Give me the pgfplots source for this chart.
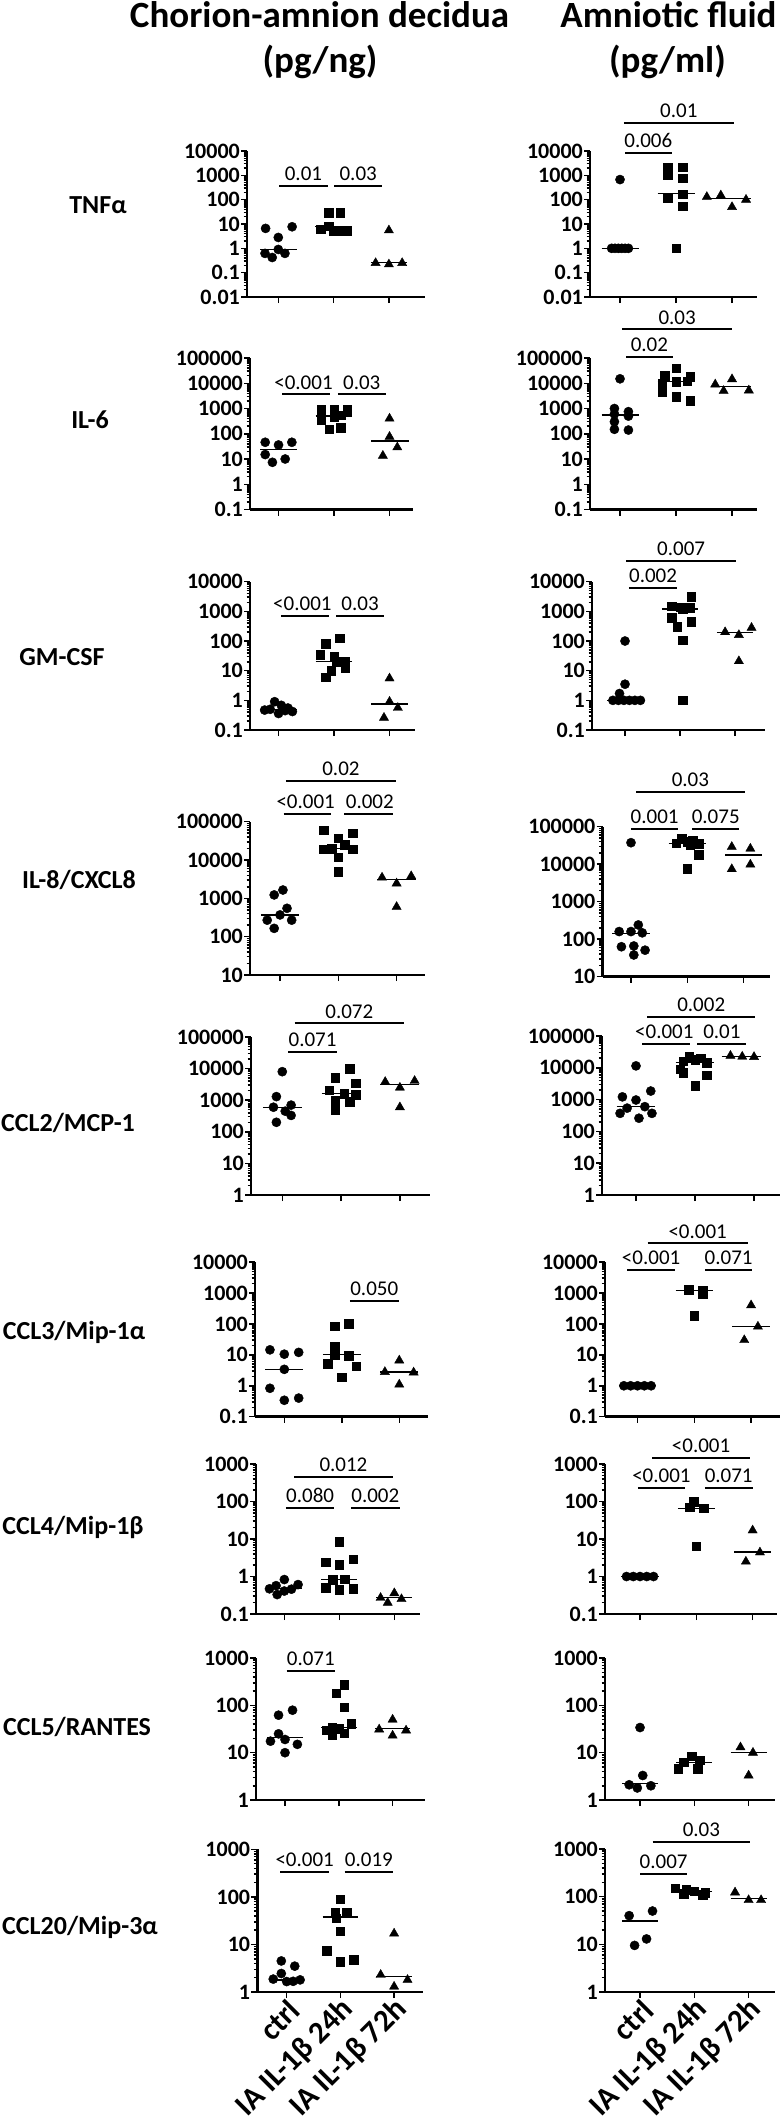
\documentclass[border=0pt]{standalone}
\usepackage{fontspec}
\setmainfont{Carlito}
\usepackage{pgfplots}
\pgfplotsset{compat=1.18}

\newcommand\ticfont{\fontsize{22}{22}\selectfont\bfseries}
\newcommand\sigfont{\fontsize{21}{22}\selectfont}
\newcommand\rowfont{\fontsize{26}{28}\selectfont\bfseries}
\newcommand\titfont{\fontsize{37}{40}\selectfont\bfseries}
\newcommand\xfont{\fontsize{31}{31}\selectfont\bfseries}

\pgfplotsset{
  cytopanel/.style={
    scale only axis, clip=false, anchor=south west,
    axis x line*=bottom, axis y line*=left,
    axis line style={line width=2.6pt},
    tick style={black, line width=1.5pt},
    major tick length=6pt, minor tick length=3.5pt,
    tick align=outside,
    xtick={0,1,2}, xticklabels={{},{},{}},
    yticklabel style={font=\ticfont, inner sep=1pt},
    minor ytick={0.02,0.03,0.04,0.05,0.06,0.07,0.08,0.09,0.2,0.3,0.4,0.5,0.6,0.7,0.8,0.9,2,3,4,5,6,7,8,9,20,30,40,50,60,70,80,90,200,300,400,500,600,700,800,900,2000,3000,4000,5000,6000,7000,8000,9000,20000,30000,40000,50000,60000,70000,80000,90000},
  },
  cyA/.style={ymin=0.01,ymax=10000,ytick={0.01,0.1,1,10,100,1000,10000},yticklabels={0.01,0.1,1,10,100,1000,10000}},
  cyB/.style={ymin=0.1,ymax=100000,ytick={0.1,1,10,100,1000,10000,100000},yticklabels={0.1,1,10,100,1000,10000,100000}},
  cyC/.style={ymin=0.1,ymax=10000,ytick={0.1,1,10,100,1000,10000},yticklabels={0.1,1,10,100,1000,10000}},
  cyD/.style={ymin=10,ymax=100000,ytick={10,100,1000,10000,100000},yticklabels={10,100,1000,10000,100000}},
  cyE/.style={ymin=1,ymax=100000,ytick={1,10,100,1000,10000,100000},yticklabels={1,10,100,1000,10000,100000}},
  cyF/.style={ymin=0.1,ymax=1000,ytick={0.1,1,10,100,1000},yticklabels={0.1,1,10,100,1000}},
  cyG/.style={ymin=1,ymax=1000,ytick={1,10,100,1000},yticklabels={1,10,100,1000}},
  ctrlpt/.style={only marks, mark=*, mark size=4.6pt, black},
  sqpt/.style={only marks, mark=square*, mark size=4.3pt, black},
  tript/.style={only marks, mark=triangle*, mark size=5.3pt, black},
  medl/.style={black, line width=1.3pt, mark=none},
  sigl/.style={black, line width=2pt, mark=none},
  bottomx/.style={xticklabels={ctrl,IA IL-1β 24h,IA IL-1β 72h},
    xticklabel style={font=\xfont, inner sep=0pt, xshift=8pt, yshift=-7pt, rotate=45, anchor=east}},
}

\newcommand\med[3]{\addplot[medl] coordinates {(#1,#3) (#2,#3)};}
\newcommand\sig[5]{\addplot[sigl] coordinates {(#1,#4) (#2,#4)};
  \node[anchor=south, inner sep=0pt, font=\sigfont, yshift=5pt] at (axis cs:#3,#4) {#5};}

\begin{document}
\begin{tikzpicture}
\useasboundingbox (0,0) rectangle (784pt,-2117pt);

% titles
\node[font=\titfont] at (319.5pt,-15pt) {Chorion-amnion decidua};
\node[font=\titfont] at (320pt,-62pt) {(pg/ng)};
\node[font=\titfont] at (668.5pt,-15pt) {Amniotic fluid};
\node[font=\titfont] at (667.5pt,-62pt) {(pg/ml)};

% row labels
\node[font=\rowfont] at (98pt,-205pt) {TNFα};
\node[font=\rowfont] at (90pt,-420pt) {IL-6};
\node[font=\rowfont] at (62pt,-657pt) {GM-CSF};
\node[font=\rowfont] at (79pt,-880pt) {IL-8/CXCL8};
\node[font=\rowfont] at (68pt,-1123pt) {CCL2/MCP-1};
\node[font=\rowfont] at (74pt,-1332pt) {CCL3/Mip-1α};
\node[font=\rowfont] at (73pt,-1527pt) {CCL4/Mip-1β};
\node[font=\rowfont] at (77pt,-1727pt) {CCL5/RANTES};
\node[font=\rowfont] at (80pt,-1927pt) {CCL20/Mip-3α};

% ===== Row 1 TNF =====
\begin{axis}[ymode=log, cytopanel, cyA, at={(247pt,-297pt)}, width=178pt, height=146pt, xmin=-0.566, xmax=2.653]
\addplot[ctrlpt] coordinates {(-0.23,6.6) (0.25,7.7) (0,2.8) (-0.24,0.62) (-0.11,0.42) (0,0.9) (0.12,0.62)};
\addplot[sqpt] coordinates {(0.91,29) (1.12,29) (0.77,6.2) (0.91,8) (1,5) (1.12,5) (1.24,5)};
\addplot[tript] coordinates {(2,5.5) (1.76,0.25) (2,0.22) (2.24,0.25)};
\med{-0.33}{0.33}{0.9}\med{0.67}{1.33}{8}\med{1.67}{2.33}{0.27}
\sig{0.02}{0.89}{0.455}{380}{0.01}
\sig{1.01}{1.88}{1.445}{380}{0.03}
\end{axis}
\begin{axis}[ymode=log, cytopanel, cyA, at={(590pt,-297pt)}, width=167pt, height=146pt, xmin=-0.536, xmax=2.446]
\addplot[ctrlpt] coordinates {(0,670) (-0.15,1) (-0.09,1) (-0.03,1) (0.03,1) (0.09,1) (0.15,1)};
\addplot[sqpt] coordinates {(0.85,2150) (1.12,2150) (0.85,1000) (1.12,750) (1.12,170) (0.85,120) (1.12,54) (1,1)};
\addplot[tript] coordinates {(1.55,130) (1.8,150) (2,50) (2.25,100)};
\med{-0.33}{0.33}{1}\med{0.67}{1.33}{175}\med{1.5}{2.33}{115}
\sig{0.09}{0.92}{0.505}{8500}{0.006}
\sig{0.07}{2.03}{1.05}{148000}{0.01}
\end{axis}

% ===== Row 2 IL-6 =====
\begin{axis}[ymode=log, cytopanel, cyB, at={(250pt,-509.5pt)}, width=163pt, height=151.5pt, xmin=-0.514, xmax=2.423]
\addplot[ctrlpt] coordinates {(-0.24,46) (0,36) (0.24,46) (-0.24,15) (-0.11,7.4) (0.12,10)};
\addplot[sqpt] coordinates {(0.77,900) (1,900) (1.24,900) (0.77,350) (1,450) (0.91,150) (1.12,170) (1.12,550)};
\addplot[tript] coordinates {(2,400) (2,76) (2.14,29) (1.88,13.5)};
\med{-0.33}{0.33}{24}\med{0.67}{1.33}{500}\med{1.67}{2.35}{52}
\sig{0.07}{0.93}{0.45}{3600}{<0.001}
\sig{1.07}{1.93}{1.5}{3600}{0.03}
\end{axis}
\begin{axis}[ymode=log, cytopanel, cyB, at={(590pt,-509.5pt)}, width=167pt, height=151.5pt, xmin=-0.536, xmax=2.446]
\addplot[ctrlpt] coordinates {(0,15000) (-0.1,1000) (0.15,750) (-0.1,600) (0.15,500) (-0.1,300) (-0.1,150) (0.15,140)};
\addplot[sqpt] coordinates {(1,40000) (0.8,20000) (1.25,18000) (0.75,10000) (1.2,12000) (1,11700) (0.75,4400) (1,3000) (1.25,2000)};
\addplot[tript] coordinates {(2,14500) (1.7,9000) (1.85,5000) (2.3,5200)};
\med{-0.33}{0.33}{550}\med{0.67}{1.33}{11700}\med{1.67}{2.33}{7400}
\sig{0.11}{0.94}{0.525}{107000}{0.02}
\sig{0.04}{2.0}{1.02}{1350000}{0.03}
\end{axis}

% ===== Row 3 GM-CSF =====
\begin{axis}[ymode=log, cytopanel, cyC, at={(250pt,-730pt)}, width=165pt, height=148.3pt, xmin=-0.514, xmax=2.459]
\addplot[ctrlpt] coordinates {(-0.25,0.47) (-0.15,0.5) (-0.07,0.9) (0.05,0.68) (0.12,0.45) (0,0.36) (0.25,0.42) (0.17,0.55)};
\addplot[sqpt] coordinates {(1.1,125) (0.85,80) (0.75,35) (1,30) (1.05,20) (1.2,20) (1.2,12) (0.95,10) (0.85,6)};
\addplot[tript] coordinates {(2,5.5) (2,0.9) (2.15,0.56) (1.9,0.26)};
\med{-0.33}{0.33}{0.48}\med{0.67}{1.33}{20}\med{1.67}{2.33}{0.75}
\sig{0.05}{0.91}{0.43}{690}{<0.001}
\sig{1.04}{1.9}{1.47}{690}{0.03}
\end{axis}
\begin{axis}[ymode=log, cytopanel, cyC, at={(592pt,-730pt)}, width=173pt, height=148.3pt, xmin=-0.6, xmax=2.545]
\addplot[ctrlpt] coordinates {(0,100) (0,3.5) (-0.1,1.7) (-0.22,1) (-0.12,1) (-0.02,1) (0.08,1) (0.18,1) (0.28,1)};
\addplot[sqpt] coordinates {(1.2,3100) (0.85,1500) (1,1400) (1.18,1300) (1.05,1200) (0.85,620) (1.2,450) (0.95,310) (1.05,105) (1.05,1)};
\addplot[tript] coordinates {(1.82,200) (2.07,160) (2.3,280) (2.07,21)};
\med{-0.33}{0.33}{1}\med{0.67}{1.33}{1200}\med{1.67}{2.33}{190}
\sig{0.07}{0.95}{0.51}{6000}{0.002}
\sig{0.02}{2.02}{1.02}{51000}{0.007}
\end{axis}

% ===== Row 4 IL-8 =====
\begin{axis}[ymode=log, cytopanel, cyD, at={(250pt,-975pt)}, width=175pt, height=153.3pt, xmin=-0.515, xmax=2.487]
\addplot[ctrlpt] coordinates {(0.05,1650) (-0.1,1230) (0.12,550) (0,370) (-0.22,270) (0.2,270) (-0.1,165)};
\addplot[sqpt] coordinates {(0.75,60000) (1.25,50000) (1,37000) (1.11,25000) (0.89,20000) (0.75,19000) (1.25,19000) (1,12000) (1,5000)};
\addplot[tript] coordinates {(1.75,3500) (2.25,3800) (2,2450) (2,600)};
\med{-0.33}{0.33}{370}\med{0.67}{1.33}{20000}\med{1.67}{2.33}{3150}
\sig{0.06}{0.88}{0.44}{158000}{<0.001}
\sig{1.1}{1.94}{1.54}{158000}{0.002}
\sig{0.1}{1.99}{1.045}{1175000}{0.02}
\end{axis}
\begin{axis}[ymode=log, cytopanel, cyD, at={(602.5pt,-976.7pt)}, width=167.5pt, height=150pt, xmin=-0.506, xmax=2.469]
\addplot[ctrlpt] coordinates {(0,37500) (0.13,240) (-0.21,160) (0,160) (0.2,148) (0.05,66) (-0.17,63) (0.25,51) (0.05,38)};
\addplot[sqpt] coordinates {(0.9,48000) (1.1,42000) (1,40000) (0.8,36000) (1.2,35000) (1.05,32000) (1.2,18000) (1,7500)};
\addplot[tript] coordinates {(1.79,29000) (2.12,26000) (1.79,7400) (2.12,9800)};
\med{-0.33}{0.33}{140}\med{0.67}{1.33}{35000}\med{1.67}{2.33}{17500}
\sig{0}{0.84}{0.42}{87000}{0.001}
\sig{1.09}{1.92}{1.505}{87000}{0.075}
\sig{0.09}{2.02}{1.055}{850000}{0.03}
\end{axis}

% ===== Row 5 CCL2 =====
\begin{axis}[ymode=log, cytopanel, cyE, at={(251pt,-1195pt)}, width=179pt, height=158pt, xmin=-0.532, xmax=2.512]
\addplot[ctrlpt] coordinates {(0,8000) (-0.1,1300) (0.15,700) (-0.15,600) (0.05,450) (0.15,330) (-0.1,200)};
\addplot[sqpt] coordinates {(1.15,10000) (0.9,5200) (1.25,3500) (0.8,2100) (1.05,1600) (1.25,1500) (0.9,950) (1.15,900) (0.9,480)};
\addplot[tript] coordinates {(1.75,3800) (2.25,4100) (2,2500) (2,600)};
\med{-0.33}{0.33}{600}\med{0.67}{1.33}{1600}\med{1.67}{2.33}{3100}
\sig{0.1}{0.93}{0.515}{33000}{0.071}
\sig{0.21}{2.07}{1.14}{270000}{0.072}
\end{axis}
\begin{axis}[ymode=log, cytopanel, cyE, at={(602pt,-1195pt)}, width=178pt, height=159pt, xmin=-0.576, xmax=2.44]
\addplot[ctrlpt] coordinates {(0,11500) (0.25,1860) (-0.23,1220) (0,970) (0.15,600) (-0.15,540) (-0.27,370) (0.27,370) (0.05,260)};
\addplot[sqpt] coordinates {(0.9,22000) (1.1,20000) (1,18000) (0.8,16000) (1.2,14400) (0.75,9000) (0.8,7000) (1.2,5800) (1,2700)};
\addplot[tript] coordinates {(1.6,24000) (1.8,22500) (2,22000)};
\med{-0.33}{0.33}{600}\med{0.67}{1.33}{14400}\med{1.45}{2.12}{22500}
\sig{0.11}{0.92}{0.48}{55000}{<0.001}
\sig{1.04}{1.87}{1.455}{55000}{0.01}
\sig{0.19}{2.02}{1.105}{407000}{0.002}
\end{axis}

% ===== Row 6 CCL3 =====
\begin{axis}[ymode=log, cytopanel, cyC, at={(255pt,-1416.7pt)}, width=173pt, height=154.7pt, xmin=-0.51, xmax=2.5]
\addplot[ctrlpt] coordinates {(-0.25,14.5) (0,10.5) (0.25,12) (0,3.4) (-0.25,0.83) (0,0.34) (0.25,0.4)};
\addplot[sqpt] coordinates {(0.88,85) (1.12,100) (0.88,19) (0.75,5.1) (0.88,10) (1.12,9.5) (1.25,4.3) (1,1.9)};
\addplot[tript] coordinates {(2,6.6) (1.75,2.8) (2.25,2.7) (2,1.1)};
\med{-0.33}{0.33}{3.4}\med{0.67}{1.33}{10.5}\med{1.67}{2.33}{2.8}
\sig{1.14}{1.99}{1.565}{540}{0.050}
\end{axis}
\begin{axis}[ymode=log, cytopanel, cyC, at={(605pt,-1416.7pt)}, width=175pt, height=154.7pt, xmin=-0.572, xmax=2.509]
\addplot[ctrlpt] coordinates {(-0.24,1) (-0.12,1) (0,1) (0.12,1) (0.24,1)};
\addplot[sqpt] coordinates {(0.9,1300) (1.15,1200) (1.15,900) (1,180)};
\addplot[tript] coordinates {(2,400) (2.12,82) (1.88,30)};
\med{-0.33}{0.33}{1}\med{0.67}{1.33}{1170}\med{1.67}{2.33}{82}
\sig{-0.18}{0.66}{0.24}{5400}{<0.001}
\sig{1.19}{2.02}{1.605}{5400}{0.071}
\sig{0.18}{1.94}{1.06}{40000}{<0.001}
\end{axis}

% ===== Row 7 CCL4 =====
\begin{axis}[ymode=log, cytopanel, cyF, at={(256pt,-1614pt)}, width=164pt, height=150pt, xmin=-0.515, xmax=2.467]
\addplot[ctrlpt] coordinates {(0,0.83) (0.25,0.61) (-0.15,0.57) (-0.27,0.47) (-0.13,0.33) (0,0.41) (0.13,0.46)};
\addplot[sqpt] coordinates {(1,8.6) (0.75,2.4) (1,2.1) (1.25,2.9) (0.88,0.83) (0.75,0.5) (1,0.44) (1.25,0.47) (1.1,0.85)};
\addplot[tript] coordinates {(2,0.36) (1.75,0.27) (1.88,0.2) (2.13,0.25)};
\med{-0.33}{0.33}{0.47}\med{0.67}{1.33}{0.85}\med{1.67}{2.33}{0.27}
\sig{0.03}{0.91}{0.47}{68}{0.080}
\sig{1.21}{2.1}{1.655}{68}{0.002}
\sig{0.18}{1.97}{1.075}{457}{0.012}
\end{axis}
\begin{axis}[ymode=log, cytopanel, cyF, at={(605pt,-1614pt)}, width=172pt, height=150pt, xmin=-0.622, xmax=2.433]
\addplot[ctrlpt] coordinates {(-0.24,1) (-0.12,1) (0,1) (0.12,1) (0.24,1)};
\addplot[sqpt] coordinates {(0.95,100) (0.88,70) (1.13,66) (1,6.5)};
\addplot[tript] coordinates {(2,17) (2.13,4.4) (1.88,2.5)};
\med{-0.33}{0.33}{1}\med{0.67}{1.33}{66}\med{1.67}{2.33}{4.5}
\sig{-0.04}{0.8}{0.38}{234}{<0.001}
\sig{1.15}{2.0}{1.575}{234}{0.071}
\sig{0.22}{1.95}{1.085}{1480}{<0.001}
\end{axis}

% ===== Row 8 CCL5 =====
\begin{axis}[ymode=log, cytopanel, cyG, at={(256pt,-1800pt)}, width=169pt, height=142pt, xmin=-0.539, xmax=2.602]
\addplot[ctrlpt] coordinates {(0.14,79) (-0.12,62) (-0.12,25) (-0.27,17.5) (0,19) (0.23,15) (0,10)};
\addplot[sqpt] coordinates {(1.1,270) (0.95,180) (1.1,91) (1.23,41) (0.77,30) (0.88,34) (0.88,23.5) (1.1,26) (1,32)};
\addplot[tript] coordinates {(2,50) (1.75,31) (2.25,29.5) (2,23)};
\med{-0.33}{0.33}{21}\med{0.67}{1.33}{34}\med{1.67}{2.33}{32}
\sig{0.03}{0.93}{0.48}{537}{0.071}
\end{axis}
\begin{axis}[ymode=log, cytopanel, cyG, at={(605pt,-1800pt)}, width=170pt, height=142pt, xmin=-0.645, xmax=2.486]
\addplot[ctrlpt] coordinates {(0,34) (0.05,3.3) (-0.2,2.1) (-0.05,1.8) (0.2,2.0)};
\addplot[sqpt] coordinates {(0.95,8.5) (1.1,7) (0.8,6.3) (0.7,4.6) (1.06,4.6)};
\addplot[tript] coordinates {(1.85,13) (2.08,10) (2,3.3)};
\med{-0.33}{0.33}{2.2}\med{0.67}{1.33}{6.3}\med{1.67}{2.33}{10}
\end{axis}

% ===== Row 9 CCL20 =====
\begin{axis}[ymode=log, cytopanel, cyG, bottomx, at={(257.3pt,-1992pt)}, width=165.7pt, height=142.7pt, xmin=-0.547, xmax=2.538]
\addplot[ctrlpt] coordinates {(-0.1,4.5) (0.15,3.5) (-0.1,2.45) (-0.25,1.87) (0,1.66) (0.12,1.68) (0.25,1.8)};
\addplot[sqpt] coordinates {(1,89) (0.9,46) (1.12,47) (1,19) (0.75,7.3) (1,4.3) (1.25,4.8) (0.92,36)};
\addplot[tript] coordinates {(2,17) (1.75,2.3) (2.25,1.8) (2,1.3)};
\med{-0.33}{0.33}{1.8}\med{0.67}{1.33}{38}\med{1.67}{2.33}{2.1}
\sig{-0.12}{0.79}{0.335}{330}{<0.001}
\sig{1.08}{1.98}{1.53}{330}{0.019}
\end{axis}
\begin{axis}[ymode=log, cytopanel, cyG, bottomx, at={(605pt,-1992pt)}, width=170pt, height=143pt, xmin=-0.645, xmax=2.486]
\addplot[ctrlpt] coordinates {(0.23,50) (-0.2,40) (0.12,13) (-0.1,9.5)};
\addplot[sqpt] coordinates {(0.65,150) (0.85,140) (1,130) (1.2,120) (0.8,115) (1.15,110)};
\addplot[tript] coordinates {(1.75,123) (2,85) (2.23,85)};
\med{-0.33}{0.33}{31}\med{0.67}{1.33}{130}\med{1.67}{2.33}{93}
\sig{0}{0.87}{0.435}{300}{0.007}
\sig{0.23}{2.03}{1.13}{1380}{0.03}
\end{axis}
\end{tikzpicture}
\end{document}
